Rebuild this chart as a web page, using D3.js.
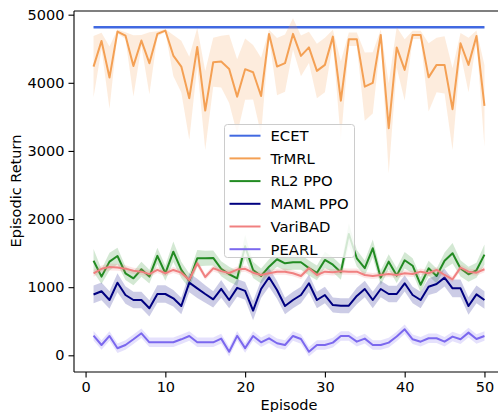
<!DOCTYPE html>
<html>
<head>
<meta charset="utf-8">
<script src="https://cdn.jsdelivr.net/npm/d3@7"></script>
<style>
  body { margin: 0; background: #fff; }
  svg { display: block; font-family: "DejaVu Sans", sans-serif; }
</style>
</head>
<body>
<div id="chart"></div>
<script>
// --> DATA (mean and std per episode)
var episodes = d3.range(1, 51);
var seriesNames = ["ECET", "TrMRL", "RL2 PPO", "MAML PPO", "VariBAD", "PEARL"];
var seriesColors = ["#4169e1", "#f4a054", "#228b22", "#000080", "#f08080", "#7b68ee"];

var ecetMean = episodes.map(function() { return 4815; });
var ecetStd = episodes.map(function() { return 8; });

var trmrlMean = [4238, 4615, 4077, 4752, 4693, 4248, 4620, 4288, 4718, 4767,
                 4400, 4238, 3774, 4527, 3592, 4302, 4312, 4204, 3797, 4200,
                 4155, 3806, 4718, 4238, 4288, 4718, 4395, 4520, 4175, 4263,
                 4678, 3738, 4640, 4640, 3944, 4000, 4703, 3333, 4520, 4190,
                 4703, 4703, 4080, 4263, 4263, 3612, 4581, 4263, 4688, 3661];
var trmrlStd = [450, 120, 457, 30, 50, 450, 80, 455, 40, 20,
                300, 380, 610, 280, 580, 360, 380, 500, 550, 450,
                400, 560, 60, 420, 420, 230, 300, 230, 400, 400,
                100, 580, 100, 100, 500, 450, 80, 660, 300, 450,
                60, 60, 500, 400, 420, 600, 150, 400, 80, 600];

var rl2Mean = [1389, 1155, 1375, 1458, 1204, 1130, 1263, 1155, 1460, 1204,
               1521, 1253, 1091, 1424, 1424, 1430, 1270, 1190, 1130, 1600,
               1253, 1164, 1301, 1410, 1351, 1366, 1366, 1280, 1210, 1400,
               1330, 1220, 1780, 1424, 1280, 1571, 1140, 1375, 1170, 1395,
               1315, 1035, 1277, 1165, 1389, 1498, 1275, 1190, 1248, 1478];
var rl2Std = [170, 110, 130, 120, 100, 100, 110, 100, 120, 110,
              150, 120, 110, 120, 110, 110, 110, 110, 110, 170,
              120, 110, 110, 110, 110, 110, 110, 110, 110, 120,
              110, 110, 160, 120, 110, 130, 110, 110, 110, 120,
              110, 110, 110, 110, 120, 150, 120, 110, 110, 150];

var mamlMean = [893, 940, 812, 1066, 885, 812, 812, 690, 900, 900,
                837, 724, 1066, 983, 900, 822, 975, 812, 990, 946,
                656, 973, 1145, 959, 724, 812, 885, 1057, 812, 885,
                738, 729, 729, 871, 973, 812, 973, 900, 900, 1057,
                885, 812, 1007, 1047, 1140, 983, 983, 724, 895, 812];
var mamlStd = [130, 130, 130, 140, 130, 120, 120, 120, 130, 130,
               120, 120, 140, 140, 130, 120, 130, 120, 130, 130,
               140, 130, 140, 130, 120, 120, 120, 130, 120, 120,
               110, 110, 110, 120, 120, 120, 120, 120, 120, 120,
               120, 120, 120, 130, 130, 130, 130, 130, 130, 130];

var varibadMean = [1204, 1270, 1296, 1290, 1272, 1240, 1228, 1192, 1253, 1204,
                   1253, 1213, 1106, 1351, 1150, 1277, 1236, 1208, 1258, 1270,
                   1213, 1179, 1204, 1228, 1228, 1204, 1164, 1277, 1179, 1228,
                   1218, 1233, 1228, 1228, 1179, 1164, 1179, 1194, 1179, 1204,
                   1194, 1228, 1204, 1253, 1179, 1116, 1287, 1228, 1213, 1263];
var varibadStd = [50, 50, 50, 50, 50, 45, 45, 45, 45, 45,
                  45, 45, 45, 50, 45, 45, 45, 45, 45, 45,
                  45, 45, 45, 45, 45, 45, 45, 45, 45, 45,
                  45, 45, 45, 45, 45, 45, 45, 45, 45, 45,
                  45, 45, 45, 45, 45, 45, 45, 45, 45, 45];

var pearlMean = [288, 151, 284, 103, 151, 235, 323, 191, 191, 191,
                 191, 235, 284, 191, 191, 191, 245, 53, 286, 106,
                 284, 191, 250, 177, 151, 284, 240, 53, 151, 151,
                 186, 284, 284, 200, 245, 151, 151, 186, 275, 382,
                 235, 200, 250, 250, 200, 275, 235, 333, 240, 284];
var pearlStd = [70, 70, 70, 70, 70, 70, 70, 70, 70, 70,
                70, 70, 70, 70, 70, 70, 70, 70, 70, 70,
                70, 70, 70, 70, 70, 70, 70, 70, 70, 70,
                70, 70, 70, 70, 70, 70, 70, 70, 70, 70,
                70, 70, 70, 70, 70, 70, 70, 70, 70, 70];

var xTicks = [0, 10, 20, 30, 40, 50];
var yTicks = [0, 1000, 2000, 3000, 4000, 5000];

var allMeans = [ecetMean, trmrlMean, rl2Mean, mamlMean, varibadMean, pearlMean];
var allStds = [ecetStd, trmrlStd, rl2Std, mamlStd, varibadStd, pearlStd];

// --> SVG DRAWING AREA
var width = 498,
    height = 412;
var plot = { left: 74, right: 504, top: 11, bottom: 372 };
var fontSize = 14.5;

var svg = d3.select("#chart").append("svg")
    .attr("width", width)
    .attr("height", height);

var x = d3.scaleLinear().domain([-1.45, 52.45]).range([plot.left, plot.right]);
var y = d3.scaleLinear().domain([-245, 5054]).range([plot.bottom, plot.top]);

var area = d3.area()
    .x(function(d) { return x(d.ep); })
    .y0(function(d) { return y(d.mean - d.std); })
    .y1(function(d) { return y(d.mean + d.std); });

var line = d3.line()
    .x(function(d) { return x(d.ep); })
    .y(function(d) { return y(d.mean); });

var series = seriesNames.map(function(name, i) {
    return {
        name: name,
        color: seriesColors[i],
        values: episodes.map(function(ep, j) {
            return { ep: ep, mean: allMeans[i][j], std: allStds[i][j] };
        })
    };
});

var marks = svg.append("g");
series.forEach(function(s) {
    marks.append("path")
        .attr("d", area(s.values))
        .attr("fill", s.color)
        .attr("fill-opacity", 0.2);
    marks.append("path")
        .attr("d", line(s.values))
        .attr("fill", "none")
        .attr("stroke", s.color)
        .attr("stroke-width", s.name == "ECET" ? 2.4 : 2)
        .attr("stroke-linejoin", "round");
});

// axes
var xAxis = svg.append("g")
    .attr("transform", "translate(0," + plot.bottom + ")")
    .call(d3.axisBottom(x).tickValues(xTicks).tickSize(5.5).tickPadding(4).tickSizeOuter(0));
var yAxis = svg.append("g")
    .attr("transform", "translate(" + plot.left + ",0)")
    .call(d3.axisLeft(y).tickValues(yTicks).tickSize(5.5).tickPadding(4).tickSizeOuter(0).tickFormat(d3.format("d")));

[xAxis, yAxis].forEach(function(a) {
    a.selectAll("text").attr("font-size", fontSize).attr("fill", "#000").attr("font-family", "DejaVu Sans");
    a.selectAll("line").attr("stroke", "#000").attr("stroke-width", 1.1);
    a.select(".domain").remove();
});

// spines
svg.append("line").attr("x1", plot.left).attr("x2", plot.left).attr("y1", plot.top).attr("y2", plot.bottom)
    .attr("stroke", "#000").attr("stroke-width", 1.1);
svg.append("line").attr("x1", plot.left).attr("x2", plot.right).attr("y1", plot.bottom).attr("y2", plot.bottom)
    .attr("stroke", "#000").attr("stroke-width", 1.1);
svg.append("line").attr("x1", plot.left).attr("x2", plot.right).attr("y1", plot.top).attr("y2", plot.top)
    .attr("stroke", "#000").attr("stroke-width", 1.1);

// axis labels
svg.append("text")
    .attr("x", 289).attr("y", 409.5)
    .attr("text-anchor", "middle")
    .attr("font-size", fontSize)
    .text("Episode");
svg.append("text")
    .attr("transform", "translate(21,191) rotate(-90)")
    .attr("text-anchor", "middle")
    .attr("font-size", fontSize)
    .text("Episodic Return");

// legend
var legendBox = svg.append("g").attr("transform", "translate(224.5,124.5)");
legendBox.append("rect")
    .attr("width", 130).attr("height", 133)
    .attr("rx", 3)
    .attr("fill", "#fff").attr("fill-opacity", 0.8)
    .attr("stroke", "#cccccc").attr("stroke-width", 1);

var legend = legendBox.selectAll(".legend")
    .data(series)
    .enter()
    .append("g")
    .attr("class", "legend")
    .attr("transform", function(d, i) {
        return "translate(0," + (11.2 + 22.7 * i) + ")";
    });
legend.append("line")
    .attr("x1", 5).attr("x2", 36)
    .attr("stroke", function(d) { return d.color; })
    .attr("stroke-width", 2);
legend.append("text")
    .attr("x", 46).attr("y", 5.3)
    .attr("font-size", 14.8)
    .text(function(d) { return d.name; });
</script>
</body>
</html>
